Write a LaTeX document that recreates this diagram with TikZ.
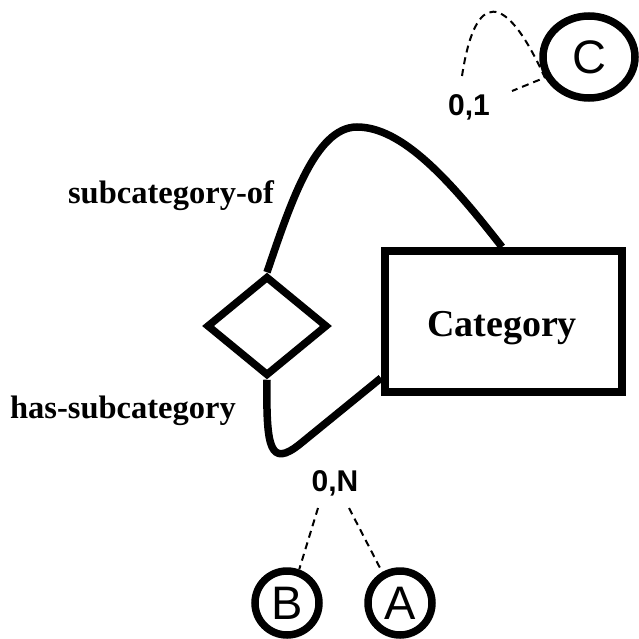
\documentclass[tikz,border=0pt]{standalone}
\usepackage{fontspec}
\setmainfont{Liberation Serif}
\newfontfamily\lsans{Liberation Sans}
\usetikzlibrary{shapes.geometric}
\begin{document}
\begin{tikzpicture}[x=1pt,y=-1pt,
  heavy/.style={line width=7.5pt,line join=miter},
  thinDash/.style={line width=2pt,dash pattern=on 7pt off 5pt},
  roleLabel/.style={font=\fontsize{32.5}{35}\selectfont\bfseries,anchor=base,inner sep=0pt},
  cardLabel/.style={font=\lsans\fontsize{30}{32}\selectfont\bfseries,anchor=base,inner sep=0pt},
  ref/.style={circle,heavy,draw,minimum size=64pt,inner sep=0pt,font=\lsans\fontsize{47}{47}\selectfont}]
\useasboundingbox (0,0) rectangle (638,639);
% entity
\node[draw,line width=8pt,minimum width=237pt,minimum height=141pt,inner sep=0pt] (cat) at (503.5,321.5) {};
\node[font=\fontsize{38}{40}\selectfont\bfseries,anchor=base,inner sep=0pt] (catlbl) at (502,336) {Category};
% relationship
\node[diamond,draw,heavy,minimum width=121pt,minimum height=100pt,inner sep=0pt,aspect=1.2] (rel) at (267,326) {};
% connectors
\draw[heavy] (rel.north) .. controls (290,205) and (315,127) .. (357,127)
   .. controls (402,127) and (450,180) .. (cat.north west -| 502,0);
\coordinate (catl) at (cat.west |- 0,378);
\draw[heavy] (rel.south) .. controls (266,448) and (270,468) .. (300,444) -- (catl);
% labels
\node[roleLabel] (lsub) at (171,203) {subcategory-of};
\node[roleLabel] (lhas) at (123,418) {has-subcategory};
\node[cardLabel] (c01) at (469,116) {0,1};
\node[cardLabel] (c0n) at (335,491) {0,N};
% reference circles
\node[ellipse,heavy,draw,minimum width=92pt,minimum height=82pt,inner sep=0pt,font=\lsans\fontsize{47}{47}\selectfont] (C) at (589,57) {C};
\node[ref] (B) at (287,603) {B};
\node[ref] (A) at (400,603) {A};
% dashed links
\coordinate (d1) at (462,76);
\coordinate (d2) at (512,91);
\draw[thinDash] (d1) .. controls (475,-10) and (505,-10) .. (C.205) -- (d2);
\coordinate (n1) at (318,508);
\coordinate (n2) at (349,508);
\draw[thinDash] (n1) -- (B.70);
\draw[thinDash] (n2) -- (A.120);
\end{tikzpicture}
\end{document}
